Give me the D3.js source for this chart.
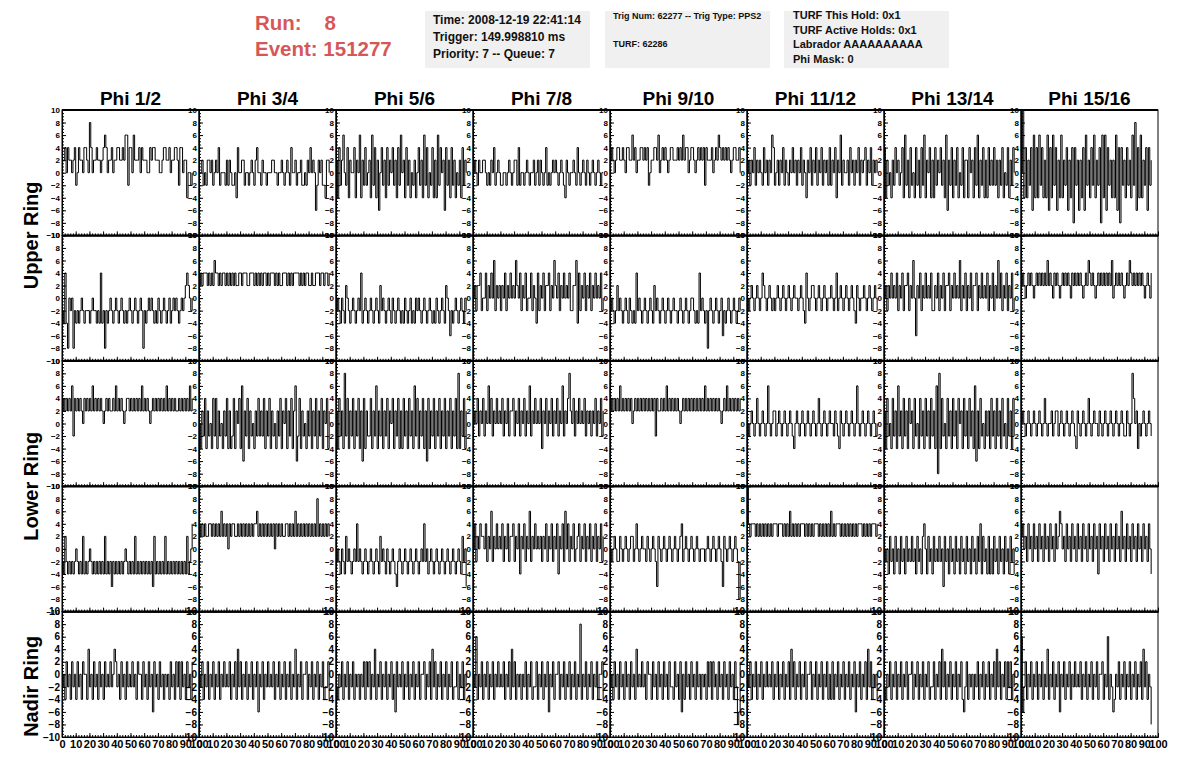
<!DOCTYPE html>
<html>
<head>
<meta charset="utf-8">
<script src="https://cdn.jsdelivr.net/npm/d3@7"></script>
<style>
  body { margin: 0; background: #fff; }
  svg { font-family: "Liberation Sans", Arial, Helvetica, sans-serif; font-weight: bold; }
</style>
</head>
<body>
<div id="chart"></div>
<script>
// column / row names and ticks
const phiTitles = ["Phi 1/2", "Phi 3/4", "Phi 5/6", "Phi 7/8", "Phi 9/10", "Phi 11/12", "Phi 13/14", "Phi 15/16"];
const ringNames = ["Upper Ring", "Lower Ring", "Nadir Ring"];
const ringRows = [[0, 1], [2, 3], [4]];
const yTicks = [10, 8, 6, 4, 2, 0, -2, -4, -6, -8, -10];
const xTicks = [0, 10, 20, 30, 40, 50, 60, 70, 80, 90, 100];

// header info
const runInfo = ["Run:    8", "Event: 151277"];
const timeInfo = ["Time: 2008-12-19 22:41:14", "Trigger: 149.998810 ms", "Priority: 7 -- Queue: 7"];
const trigInfo = ["Trig Num: 62277 -- Trig Type: PPS2", "TURF: 62286"];
const turfInfo = ["TURF This Hold: 0x1", "TURF Active Holds: 0x1", "Labrador AAAAAAAAAA", "Phi Mask: 0"];

// waveform samples, one char per sample (1 ns apart):
// '0'=-10 '1'=-8 '2'=-6 '3'=-4 '4'=-2 '5'=0 '6'=2 '7'=4 '8'=6 '9'=8 'A'=10
const upperTop = [
  "667576656745766577659756676656787566756677667688477586667576665576776665567766756677647756635545",
  "556454665645657455546465445375566455456546755465545556655455654565475564556445465756524656443665",
  "637468547365573658364745638473625746374657463748563746354635746384735473638475627463746354637465",
  "565465566545465745654455456545664745545654556456465457454565654565436545565475456546545654565455",
  "676567766765776686756677676745667768567676567766676768677567765676767476667567687676767656776675",
  "564657465654756465874564657465465756465746536574657465746564746573658465564756465746567465746565",
  "736453647564573846374537463748365736374657463826473647354736637563748364736374647463647354736475",
  "5A3736472837384736382738472638364726371746263728463748364718382746363827174637463849273836472746"
];
const upperBottom = [
  "437315451434345434443454434373414345434543454343454345434541434545434354345434534545434545676545",
  "676777676768776767767676767667767776677767676767767677767676677767676777767676776676677767767767",
  "454354365434543454734543454345436454345435434543435434534354543454345434354345436542434543454354",
  "564667455746575846564657465756586574657455746537465746674658657465756574466837465746574657565745",
  "454346454345435434374543454345436454345434543454434543454345543437454341454345434524345434543454",
  "545654565457654565454565456545654565545654375456654565456545565457456545654565436545565456545654",
  "564657565746574667465852657465756574465746574667465756584657465746674657565746574658574657465745",
  "676567676567676767686765767656767676576767676567687676567676767676856767676567687676767676567657"
];
const lowerTop = [
  "676767684767676576767686767676567676676867676567767676767686767656767676767686767676676767676867",
  "536473645374736453647363473657382647364536474647364736453647365736473682473645364736473647365736",
  "637463947364736473627364473648364736473657364736374637463847364736273647364736473647364739364736",
  "565746574658574657565746574667465746574658465756573657465746574658465796574657565746564657465746",
  "676767686767676756767676767676767476676768676767676567676767676767676867676767676567686767676767",
  "545654575456545854566456545654565435654565456545654575456545655465436545654565458545654565456545",
  "637453746384637463756374537463746374638193745374637463756374637463826374536463746374637453746374",
  "565456545654565457545564566456545654565436545654575456554654565456545654565446545975635456545654"
];
const lowerBottom = [
  "436434343454343634345434343434363434243434343454343436343434343434263434343634343434343434363457",
  "767676677676767686767576776676767676767677867676767676757676766776767686767676767676769676767676",
  "454354364543454745434543454345436454354345432454345434543454345474534543454345434543454345436452",
  "574657665746584657565746574667465736574658465756564657465746573657485746574567465746574657465746",
  "545654465456545664575456554654565426545654565456545674565456545654555456545654565426545654565414",
  "A76777676767676767677767776767686767676777676767677767676767686767776767676767676777676767677767",
  "545364536453645364546453645367536453645464526453645364536453645364536473645363536453645364536453",
  "675647564756475647564756475687564756475647564756475647563756475647564756485647564756475647564753"
];
const nadir = [
  "453645364536453655374536453645364546457645364536454645365536453645264536453545364536463645364536",
  "546354635463546354645463546374635463546354625463546454635463546354635473546355635463546354634463",
  "435463546354635453546364635473546354635463526454635463546354635563546374635463546354634463546354",
  "548354635463546354645463546374635453546354634463546354625463556354635463546354935463546354635563",
  "453645364536453645374546453655364536453645364436453625364536453645354536463645364536453645364126",
  "546354635463546454635463546354637463546354635563546354635463536354635463546354625463546374635453",
  "435463546354635463556354635463546344635463746354635463546324635453546354635463546374635463646354",
  "824635463546354635473546354625463546354645463546354635463556354835423546354635463546354637463541"
];
const waveRows = [upperTop, upperBottom, lowerTop, lowerBottom, nadir];

const decode = s => s.split("").map((c, i) => ({t: i, v: c === "A" ? 10 : (+c - 5) * 2}));

const W = 1196, H = 772;
const plotLeft = 62, plotRight = 1158, plotTop = 110, plotBottom = 737;
const nCols = 8, nRows = 5;
const colW = (plotRight - plotLeft) / nCols;
const rowH = (plotBottom - plotTop) / nRows;
const red = "#d65757";

const svg = d3.select("#chart").append("svg")
  .attr("width", W).attr("height", H);

// header
svg.selectAll(".run").data(runInfo).enter().append("text")
  .attr("x", 255).attr("y", (d, i) => 30 + i * 26)
  .attr("fill", red).style("font-size", "20.5px")
  .attr("xml:space", "preserve").style("white-space", "pre")
  .text(d => d);

const boxes = [
  {x: 425, w: 165, lines: timeInfo, size: 12, y0: 24, dy: 17, pad: 8},
  {x: 605, w: 165, lines: trigInfo, size: 9, y0: 19, dy: 28, pad: 8},
  {x: 784, w: 165, lines: turfInfo, size: 11, y0: 19, dy: 14.5, pad: 9}
];
boxes.forEach(b => {
  svg.append("rect").attr("x", b.x).attr("y", 11).attr("width", b.w).attr("height", 57)
    .attr("fill", "#f0f0f0");
  svg.selectAll(null).data(b.lines).enter().append("text")
    .attr("x", b.x + b.pad).attr("y", (d, i) => b.y0 + i * b.dy)
    .style("font-size", b.size + "px").attr("fill", "#111")
    .text(d => d);
});

// column titles
svg.selectAll(".phi").data(phiTitles).enter().append("text")
  .attr("x", (d, i) => plotLeft + colW * (i + 0.5)).attr("y", 105)
  .attr("text-anchor", "middle").style("font-size", "19px")
  .text(d => d);

// ring labels
ringNames.forEach((name, k) => {
  const rows = ringRows[k];
  let cy = plotTop + rowH * (rows[0] + rows[rows.length - 1] + 1) / 2;
  if (k === 2) cy += 12;
  svg.append("text")
    .attr("transform", `translate(38,${cy}) rotate(-90)`)
    .attr("text-anchor", "middle").style("font-size", "20px")
    .text(name);
});

// samples are held until the next one, like the dense trace in the original
const line = d3.line().curve(d3.curveStepAfter);

waveRows.forEach((row, r) => {
  const y0 = plotTop + r * rowH, y1 = y0 + rowH;
  const labelSize = r === nRows - 1 ? 10 : 8;
  row.forEach((wave, c) => {
    const x0 = plotLeft + c * colW, x1 = x0 + colW;
    const x = d3.scaleLinear().domain([0, 100]).range([x0, x1]);
    const y = d3.scaleLinear().domain([-10, 10]).range([y1, y0]);
    const g = svg.append("g");

    const pts = decode(wave);
    g.append("path")
      .attr("d", line(pts.map(d => [x(d.t), y(d.v)])))
      .attr("fill", "none").attr("stroke", "#000").attr("stroke-width", 1);

    // frame
    g.append("rect").attr("x", x0).attr("y", y0).attr("width", colW).attr("height", rowH)
      .attr("fill", "none").attr("stroke", "#000").attr("stroke-width", 1);
    g.append("line").attr("x1", x0).attr("x2", x1).attr("y1", y0).attr("y2", y0)
      .attr("stroke", "#000").attr("stroke-width", 2);

    // y axis
    const ya = g.append("g").attr("transform", `translate(${x0},0)`)
      .call(d3.axisLeft(y).tickValues(yTicks).tickSize(-4).tickSizeOuter(0).tickPadding(2));
    ya.selectAll("text").style("font-size", labelSize + "px").style("font-weight", "bold")
      .style("font-family", "Liberation Sans, Arial, sans-serif").attr("fill", "#000");
    g.append("g").attr("transform", `translate(${x0},0)`)
      .call(d3.axisLeft(y).tickValues(d3.range(-10, 10.01, 0.5)).tickSize(-2).tickSizeOuter(0).tickFormat(""));

    // x axis
    const xa = g.append("g").attr("transform", `translate(0,${y1})`)
      .call(d3.axisBottom(x).tickValues(xTicks).tickSize(-4).tickSizeOuter(0).tickPadding(3)
        .tickFormat(r === nRows - 1 ? d3.format("d") : ""));
    xa.selectAll("text").style("font-size", "11px").style("font-weight", "bold")
      .style("font-family", "Liberation Sans, Arial, sans-serif").attr("fill", "#000");
    g.append("g").attr("transform", `translate(0,${y1})`)
      .call(d3.axisBottom(x).tickValues(d3.range(0, 100.01, 2)).tickSize(-2).tickSizeOuter(0).tickFormat(""));

    g.selectAll(".domain").attr("stroke", "#000");
    g.selectAll(".tick line").attr("stroke", "#000");
  });
});
</script>
</body>
</html>
